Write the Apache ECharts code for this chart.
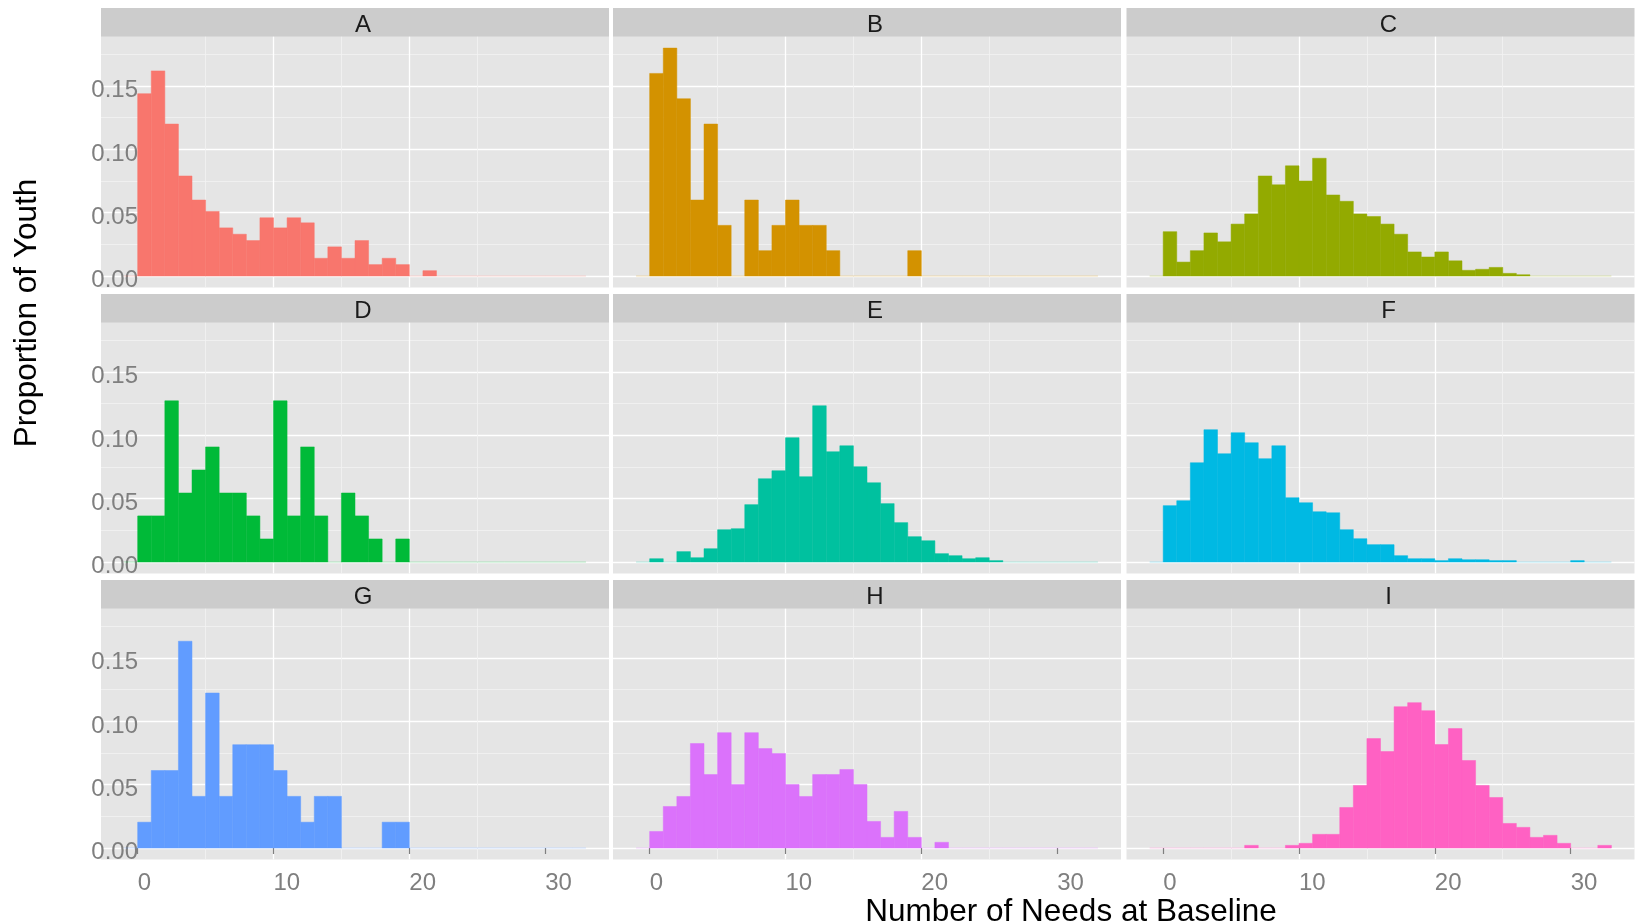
<!DOCTYPE html>
<html>
<head>
<meta charset="utf-8">
<script src="https://cdn.jsdelivr.net/npm/echarts@6/dist/echarts.min.js"></script>
<style>
html,body{margin:0;padding:0;background:#ffffff;}
#chart{width:1636px;height:924px;}
</style>
</head>
<body>
<div id="chart"></div>
<script>
// ---- data ----
// left edge of each bin (bin width 1); counts of needs -1..32
const binStart = [-1,0,1,2,3,4,5,6,7,8,9,10,11,12,13,14,15,16,17,18,19,20,21,22,23,24,25,26,27,28,29,30,31,32];
const binWidth = 1;
const panelNames = ['A','B','C','D','E','F','G','H','I'];
const panelColors = ['#F8766D','#D39200','#93AA00','#00BA38','#00C19F','#00B9E3','#619CFF','#DB72FB','#FF61C3'];

const valuesA = [0, 0.144,0.162,0.120,0.079,0.060,0.051,0.038,0.033,0.028,0.046,0.038,0.046,0.042,0.014,0.023,0.014,0.028,0.009,0.014,0.009,0,0.0042, 0,0,0,0,0,0,0,0,0,0,0];
const valuesB = [0, 0.16,0.18,0.14,0.06,0.12,0.04,0,0.06,0.02,0.04,0.06,0.04,0.04,0.02,0,0,0,0,0,0.02, 0,0,0,0,0,0,0,0,0,0,0,0,0];
const valuesC = [0, 0.035,0.011,0.020,0.034,0.027,0.041,0.049,0.079,0.072,0.087,0.075,0.093,0.064,0.059,0.049,0.047,0.041,0.033,0.019,0.015,0.019,0.012,0.0045,0.0053,0.0068,0.0021,0.001, 0,0,0,0,0,0];
const valuesD = [0, 0.0364,0.0364,0.1273,0.0545,0.0727,0.0909,0.0545,0.0545,0.0364,0.0182,0.1273,0.0364,0.0909,0.0364,0,0.0545,0.0364,0.0182,0,0.0182, 0,0,0,0,0,0,0,0,0,0,0,0,0];
const valuesE = [0, 0.0026,0,0.0082,0.0034,0.0105,0.0255,0.0263,0.0453,0.0658,0.0721,0.0982,0.0674,0.1234,0.0871,0.0918,0.0753,0.0626,0.0461,0.0311,0.020,0.0168,0.0066,0.005,0.0026,0.0034,0.0011, 0,0,0,0,0,0,0];
const valuesF = [0, 0.0445,0.0484,0.0784,0.1045,0.0855,0.1021,0.0942,0.0816,0.0918,0.0508,0.0468,0.0397,0.0389,0.0255,0.0184,0.0137,0.0137,0.005,0.0026,0.0026,0.0011,0.0026,0.0018,0.0018,0.0011,0.0011,0,0,0,0,0.0011, 0,0];
const valuesG = [0, 0.0204,0.0612,0.0612,0.1633,0.0408,0.1224,0.0408,0.0816,0.0816,0.0816,0.0612,0.0408,0.0204,0.0408,0.0408,0,0,0,0.0204,0.0204, 0,0,0,0,0,0,0,0,0,0,0,0,0];
const valuesH = [0, 0.0131,0.0328,0.0407,0.0825,0.058,0.0911,0.0502,0.0911,0.0785,0.0746,0.0502,0.0407,0.058,0.058,0.062,0.0502,0.021,0.0084,0.0289,0.0084,0,0.0045, 0,0,0,0,0,0,0,0,0,0,0];
const valuesI = [0, 0,0,0,0,0,0,0.0021,0,0,0.0021,0.0037,0.0108,0.0108,0.032,0.0494,0.0864,0.0762,0.1116,0.1148,0.1085,0.0817,0.0943,0.0691,0.0494,0.0399,0.0194,0.0163,0.0084,0.010,0.0037,0,0,0.0021];
const panelValues = [valuesA,valuesB,valuesC,valuesD,valuesE,valuesF,valuesG,valuesH,valuesI];

const xTickValues = [0,10,20,30];
const yTickValues = [0,0.05,0.10,0.15];
const xTitle = 'Number of Needs at Baseline';
const yTitle = 'Proportion of Youth';

// ---- layout ----
const FONT = "'Liberation Sans', Arial, sans-serif";
const colLeft = [101, 613, 1126.5];
const panelW = 508;
const rowTop = [8, 294, 580];
const stripH = 28.7;
const panelH = 250.7;
const xRange = [-2.7, 34.7];
const yRange = [-0.009, 0.189];

const chart = echarts.init(document.getElementById('chart'), null, {renderer: 'canvas'});

const grids = [], xAxes = [], yAxes = [], series = [], graphics = [];

panelNames.forEach((name, i) => {
  const col = i % 3, row = Math.floor(i / 3);
  const left = colLeft[col], top = rowTop[row] + stripH;
  grids.push({
    left: left, top: top, width: panelW, height: panelH,
    show: true, backgroundColor: '#E5E5E5', borderWidth: 0,
    containLabel: false, outerBoundsMode: 'none'
  });
  const bottomRow = row === 2, leftCol = col === 0;
  xAxes.push({
    type: 'value', gridIndex: i, min: xRange[0], max: xRange[1],
    splitNumber: 4, minInterval: 10, maxInterval: 10,
    axisLine: {show: false},
    axisTick: {show: bottomRow, customValues: xTickValues, length: 6, lineStyle: {color: '#7F7F7F', width: 1.2}},
    axisLabel: {show: bottomRow, customValues: xTickValues, align: 'left', margin: 12,
      fontSize: 24, color: '#7F7F7F', fontFamily: FONT},
    splitLine: {show: true, showMinLine: false, showMaxLine: false, lineStyle: {color: '#FFFFFF', width: 1.3}},
    minorTick: {show: false, splitNumber: 2},
    minorSplitLine: {show: true, lineStyle: {color: '#F2F2F2', width: 0.8}}
  });
  yAxes.push({
    type: 'value', gridIndex: i, min: yRange[0], max: yRange[1],
    splitNumber: 4, minInterval: 0.05, maxInterval: 0.05,
    axisLine: {show: false},
    axisTick: {show: false},
    axisLabel: {show: leftCol, customValues: yTickValues, margin: -37, align: 'right',
      verticalAlign: 'top', lineHeight: 9,
      fontSize: 24, color: '#7F7F7F', fontFamily: FONT,
      formatter: v => Number(v).toFixed(2)},
    splitLine: {show: true, showMinLine: false, showMaxLine: false, lineStyle: {color: '#FFFFFF', width: 1.3}},
    minorTick: {show: false, splitNumber: 2},
    minorSplitLine: {show: true, lineStyle: {color: '#F2F2F2', width: 0.8}}
  });
  const color = panelColors[i];
  series.push({
    type: 'custom', xAxisIndex: i, yAxisIndex: i, z: 2,
    data: binStart.map((b, k) => [b, panelValues[i][k]]),
    renderItem: (params, api) => {
      const x0 = api.value(0), v = api.value(1);
      const p0 = api.coord([x0, 0]);
      const p1 = api.coord([x0 + binWidth, v]);
      if (v === 0) {
        return {type: 'rect', shape: {x: p0[0], y: p0[1] - 0.5, width: p1[0] - p0[0], height: 1},
          style: {fill: color, opacity: 0.3}};
      }
      return {type: 'rect',
        shape: {x: p0[0], y: p1[1], width: p1[0] - p0[0], height: p0[1] - p1[1]},
        style: {fill: color, stroke: color, lineWidth: 0.5}};
    }
  });
  // facet strip
  graphics.push({type: 'rect', left: left, top: rowTop[row], silent: true,
    shape: {width: panelW, height: stripH}, style: {fill: '#CCCCCC'}});
  graphics.push({type: 'text', x: left + panelW / 2 + 8, y: rowTop[row] + stripH / 2 + 3, silent: true,
    style: {text: name, fill: '#1A1A1A', fontSize: 24, fontFamily: FONT, align: 'center', verticalAlign: 'middle'}});
});

graphics.push({type: 'text', x: 1071, y: 912, silent: true,
  style: {text: xTitle, fill: '#000000', fontSize: 31.5, fontFamily: FONT, align: 'center', verticalAlign: 'middle'}});
graphics.push({type: 'text', x: 27, y: 313, rotation: Math.PI / 2, silent: true,
  style: {text: yTitle, fill: '#000000', fontSize: 31.5, fontFamily: FONT, align: 'center', verticalAlign: 'middle'}});

chart.setOption({
  animation: false,
  backgroundColor: '#FFFFFF',
  grid: grids,
  xAxis: xAxes,
  yAxis: yAxes,
  series: series,
  graphic: graphics
});
</script>
</body>
</html>
